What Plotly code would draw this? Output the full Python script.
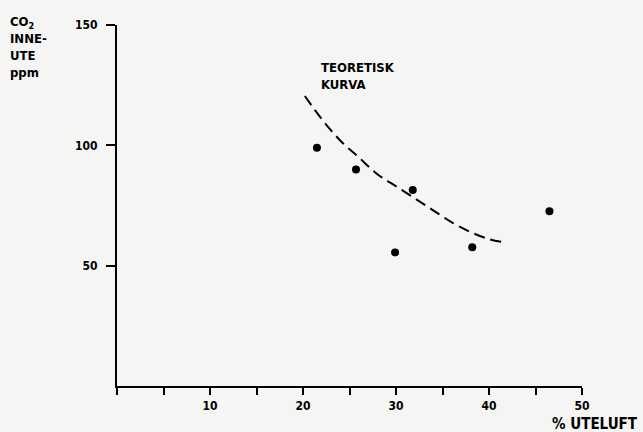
import plotly.graph_objects as go

# Measured points
meas_x = [21.5, 25.7, 29.9, 31.8, 38.2, 46.5]
meas_y = [99, 90, 55.5, 81.4, 57.7, 72.6]

# Theoretical curve
curve_x = [20.2, 22, 24, 26, 28, 30, 32, 34, 36, 38, 40, 41.3]
curve_y = [120.5, 111, 102, 95, 88, 83, 78, 73, 68, 64, 61, 59.9]

x_major = [10, 20, 30, 40, 50]
x_minor = [0, 5, 15, 25, 35, 45]
y_ticks = [50, 100, 150]

FONT = "DejaVu Sans Condensed, DejaVu Sans, sans-serif"
BG = "#f5f5f4"

L, R, T, B = 117, 61, 25, 46
PW, PH = 643 - L - R, 432 - T - B


def px(xp):
    return (xp - L) / PW


def py(yp):
    return (432 - B - yp) / PH


fig = go.Figure()
fig.add_trace(go.Scatter(x=curve_x, y=curve_y, mode="lines",
                         line=dict(color="black", width=2, dash="11px,6px", shape="spline"),
                         hoverinfo="skip"))
fig.add_trace(go.Scatter(x=meas_x, y=meas_y, mode="markers",
                         marker=dict(color="black", size=8)))

tf = dict(family=FONT, size=12, weight="bold")

fig.update_layout(
    width=643, height=432,
    margin=dict(l=L, r=R, t=T, b=B),
    paper_bgcolor=BG, plot_bgcolor=BG,
    showlegend=False,
    font=dict(family=FONT, size=12, color="black"),
    xaxis=dict(range=[0, 50], showgrid=False, zeroline=False, showline=True,
               linecolor="black", linewidth=2,
               tickmode="array", tickvals=x_major,
               ticks="outside", ticklen=7, tickwidth=2, tickcolor="black",
               ticklabelstandoff=1,
               tickfont=tf,
               minor=dict(tickvals=x_minor, ticks="outside", ticklen=7,
                          tickwidth=2, tickcolor="black", showgrid=False)),
    yaxis=dict(range=[0, 150], showgrid=False, zeroline=False, showline=True,
               linecolor="black", linewidth=2,
               tickmode="array", tickvals=y_ticks,
               ticks="outside", ticklen=9, tickwidth=2, tickcolor="black",
               ticklabelstandoff=6,
               tickfont=tf),
)

fig.add_annotation(text="TEORETISK<br>KURVA", xref="paper", yref="paper",
                   x=px(319), y=py(58), xanchor="left", yanchor="top", align="left",
                   showarrow=False, font=dict(family=FONT, size=13, weight="bold"))
fig.add_annotation(text="% UTELUFT", xref="paper", yref="paper",
                   x=px(550), y=py(424), xanchor="left", yanchor="middle",
                   showarrow=False, font=dict(family=FONT, size=15, weight="bold"))
fig.add_annotation(text="CO<sub>2</sub><br>INNE-<br>UTE<br>ppm", xref="paper", yref="paper",
                   x=px(8), y=py(12), xanchor="left", yanchor="top",
                   align="left", showarrow=False, font=dict(family=FONT, size=13, weight="bold"))

fig.write_html("out.html")
